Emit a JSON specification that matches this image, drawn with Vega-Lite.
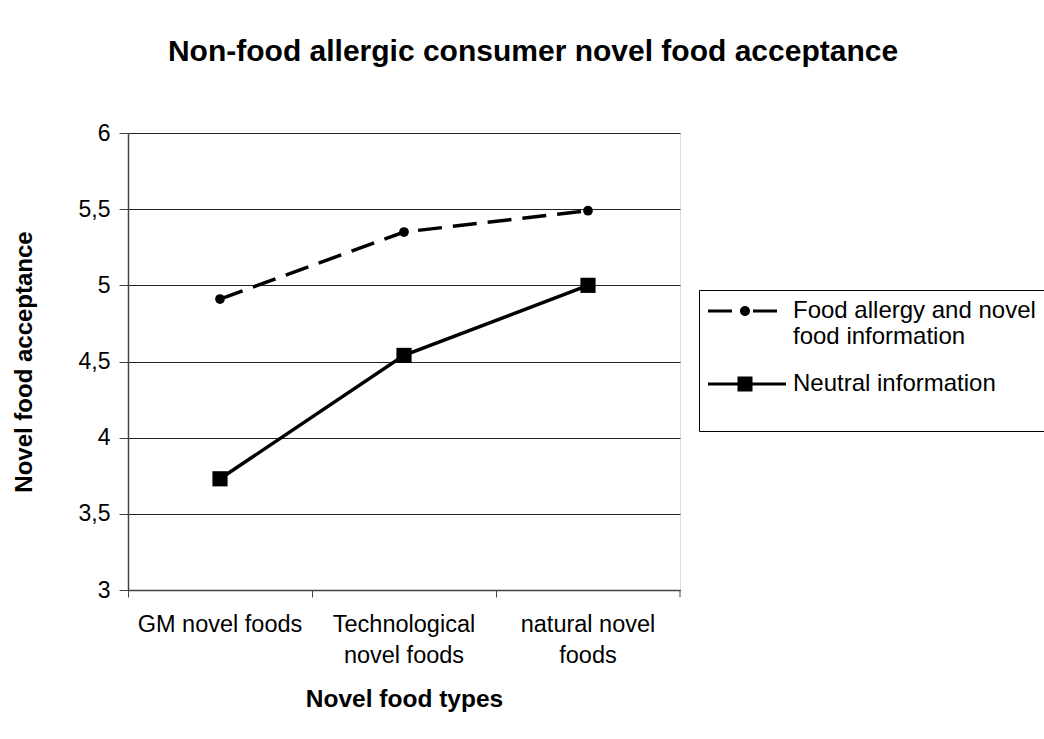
{
  "$schema": "https://vega.github.io/schema/vega-lite/v6.json",
  "width": 552,
  "height": 457,
  "autosize": "none",
  "padding": {"left": 128, "top": 133, "right": 364, "bottom": 149},
  "background": "white",
  "title": {
    "text": "Non-food allergic consumer novel food acceptance",
    "font": "Liberation Sans",
    "fontSize": 30,
    "fontWeight": "bold",
    "color": "black",
    "anchor": "middle",
    "frame": "group",
    "baseline": "alphabetic",
    "offset": 31,
    "dx": 129
  },
  "data": {
    "values": [
      {"cat": "GM novel foods", "series": "Food allergy and novel food information", "value": 4.91},
      {"cat": "Technological novel foods", "series": "Food allergy and novel food information", "value": 5.35},
      {"cat": "natural novel foods", "series": "Food allergy and novel food information", "value": 5.49},
      {"cat": "GM novel foods", "series": "Neutral information", "value": 3.73},
      {"cat": "Technological novel foods", "series": "Neutral information", "value": 4.54},
      {"cat": "natural novel foods", "series": "Neutral information", "value": 5.0}
    ]
  },
  "encoding": {
    "x": {
      "field": "cat",
      "type": "nominal",
      "sort": ["GM novel foods", "Technological novel foods", "natural novel foods"],
      "scale": {"paddingInner": 0, "paddingOuter": 0},
      "axis": {
        "title": "Novel food types",
        "titleFont": "Liberation Sans",
        "titleFontSize": 24.5,
        "titleFontWeight": "bold",
        "titleColor": "black",
        "titlePadding": 21,
        "labelFont": "Liberation Sans",
        "labelFontSize": 23.5,
        "labelColor": "black",
        "labelAngle": 0,
        "labelPadding": 15,
        "labelLineHeight": 31,
        "labelLimit": 300,
        "labelExpr": "datum.label == 'Technological novel foods' ? ['Technological', 'novel foods'] : datum.label == 'natural novel foods' ? ['natural novel', 'foods'] : datum.label",
        "bandPosition": 0,
        "tickSize": 7,
        "tickColor": "#444",
        "domainColor": "#444",
        "domainWidth": 1.5,
        "grid": false
      }
    },
    "y": {
      "field": "value",
      "type": "quantitative",
      "scale": {"domain": [3, 6], "nice": false, "zero": false},
      "axis": {
        "title": "Novel food acceptance",
        "titleFont": "Liberation Sans",
        "titleFontSize": 24,
        "titleFontWeight": "bold",
        "titleColor": "black",
        "titlePadding": 42,
        "labelFont": "Liberation Sans",
        "labelFontSize": 23,
        "labelColor": "black",
        "labelPadding": 9,
        "values": [3, 3.5, 4, 4.5, 5, 5.5, 6],
        "labelExpr": "replace(format(datum.value, '~g'), '.', ',')",
        "tickSize": 9,
        "tickColor": "#444",
        "domainColor": "#444",
        "domainWidth": 1.5,
        "grid": true,
        "gridColor": "#222",
        "gridWidth": 1
      }
    }
  },
  "layer": [
    {
      "transform": [{"filter": "datum.series == 'Food allergy and novel food information'"}],
      "mark": {"type": "line", "color": "black", "strokeWidth": 3.5, "strokeDash": [24, 11]}
    },
    {
      "transform": [{"filter": "datum.series == 'Neutral information'"}],
      "mark": {"type": "line", "color": "black", "strokeWidth": 3.5}
    },
    {
      "transform": [{"filter": "datum.series == 'Food allergy and novel food information'"}],
      "mark": {"type": "point", "shape": "circle", "filled": true, "color": "black", "size": 95, "opacity": 1}
    },
    {
      "transform": [{"filter": "datum.series == 'Neutral information'"}],
      "mark": {"type": "point", "shape": "square", "filled": true, "color": "black", "size": 230, "opacity": 1}
    },
    {
      "transform": [{"filter": "datum.cat == 'natural novel foods' && datum.series == 'Neutral information'"}],
      "mark": {"type": "rule", "color": "#444", "strokeWidth": 1},
      "encoding": {
        "x": {"field": "cat", "type": "nominal", "bandPosition": 1},
        "y": {"datum": 3},
        "y2": {"datum": 2.954}
      }
    },
    {
      "mark": {"type": "point", "filled": true, "color": "black", "size": 4, "opacity": 0},
      "encoding": {
        "shape": {
          "field": "series",
          "type": "nominal",
          "scale": {
            "domain": ["Food allergy and novel food information", "Neutral information"],
            "range": [
              "M-37,-1.5H-13V1.5H-37Z M8,-1.5H32V1.5H8Z M-5,0A5,5,0,1,0,5,0A5,5,0,1,0,-5,0Z",
              "M-37,-1.5H41V1.5H-37Z M-7.5,-7.5H7.5V7.5H-7.5Z"
            ]
          },
          "legend": {
            "title": null,
            "orient": "none",
            "legendX": 571,
            "legendY": 157,
            "strokeColor": "black",
            "fillColor": "white",
            "padding": 9,
            "rowPadding": 23,
            "labelFont": "Liberation Sans",
            "labelFontSize": 24,
            "labelColor": "black",
            "labelLimit": 400,
            "labelOffset": 36,
            "symbolOffset": 25,
            "symbolSize": 4,
            "symbolFillColor": "black",
            "symbolStrokeColor": "black",
            "symbolOpacity": 1,
            "labelExpr": "datum.label == 'Food allergy and novel food information' ? ['Food  allergy and novel', 'food information'] : [datum.label, '']",
            "encode": {
              "symbols": {
                "update": {
                  "fill": {"value": "black"},
                  "fillOpacity": {"value": 1},
                  "opacity": {"value": 1}
                }
              }
            }
          }
        }
      }
    }
  ]
}
